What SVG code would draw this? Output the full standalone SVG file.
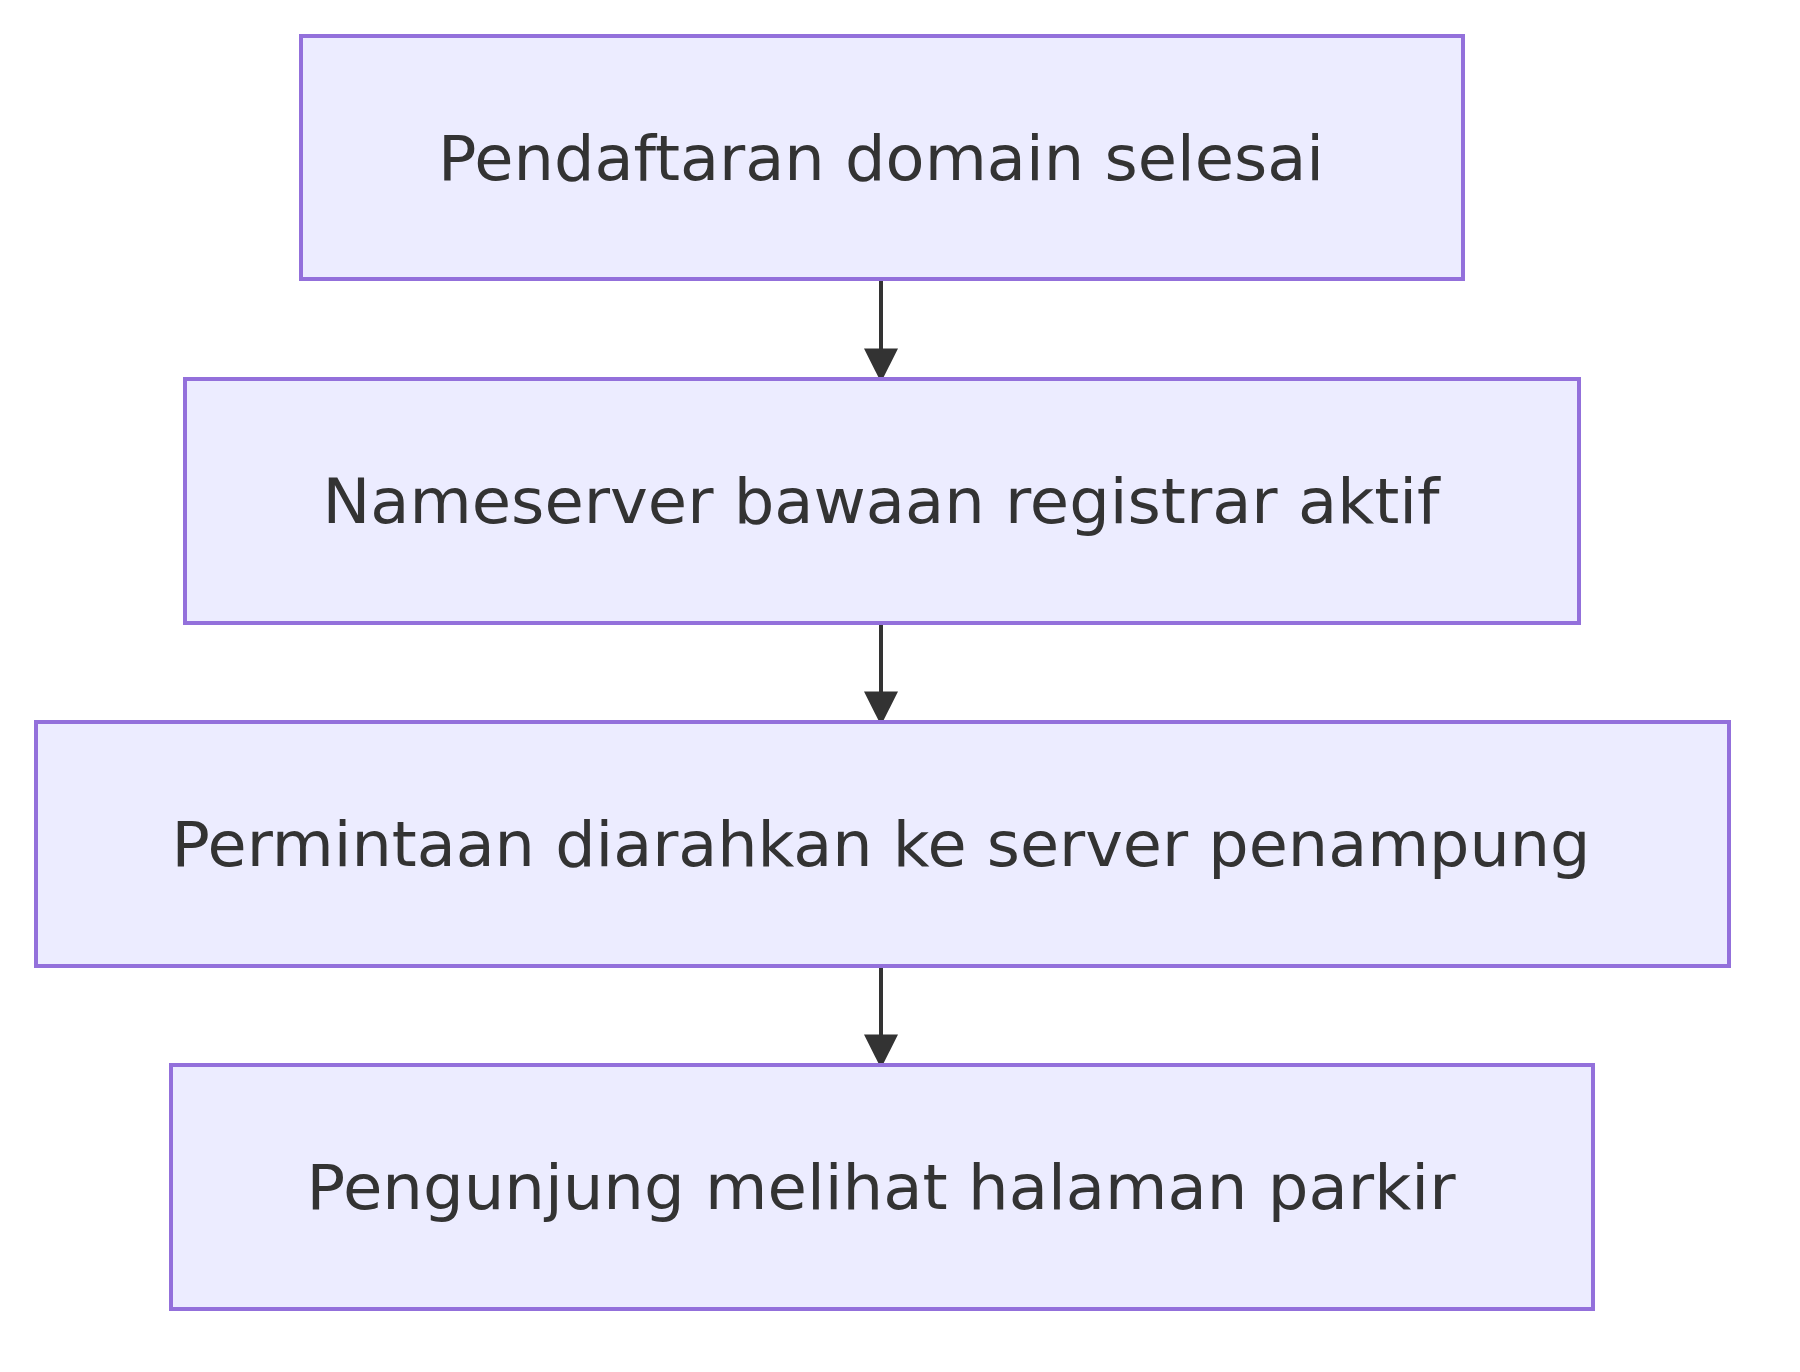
<svg xmlns="http://www.w3.org/2000/svg" width="1800" height="1372" viewBox="0 0 1800 1372">
<style>
.box{fill:#ECECFF;stroke:#9370DB;stroke-width:4}
.t{font-family:"DejaVu Sans","Liberation Sans",sans-serif;font-size:62px;fill:#333;text-anchor:middle}
.e{stroke:#333;stroke-width:4;fill:none}
</style>
<defs><marker id="a" viewBox="0 0 10 10" refX="9" refY="5" markerWidth="34" markerHeight="34" markerUnits="userSpaceOnUse" orient="auto"><path d="M0,0L10,5L0,10z" fill="#333"/></marker></defs>
<rect width="1800" height="1372" fill="#fff"/>
<g id="edges">
<path class="e" d="M881,279V379" marker-end="url(#a)"/>
<path class="e" d="M881,623V722" marker-end="url(#a)"/>
<path class="e" d="M881,966V1065" marker-end="url(#a)"/>
</g>
<g id="n1"><rect class="box" x="301" y="36" width="1162" height="243"/><text class="t" x="881" y="180" textLength="886" lengthAdjust="spacingAndGlyphs">Pendaftaran domain selesai</text></g>
<g id="n2"><rect class="box" x="185" y="379" width="1394" height="244"/><text class="t" x="881" y="523" textLength="1117" lengthAdjust="spacingAndGlyphs">Nameserver bawaan registrar aktif</text></g>
<g id="n3"><rect class="box" x="36" y="722" width="1693" height="244"/><text class="t" x="881" y="866" textLength="1419" lengthAdjust="spacingAndGlyphs">Permintaan diarahkan ke server penampung</text></g>
<g id="n4"><rect class="box" x="171" y="1065" width="1422" height="244"/><text class="t" x="881" y="1209" textLength="1149" lengthAdjust="spacingAndGlyphs">Pengunjung melihat halaman parkir</text></g>
</svg>
